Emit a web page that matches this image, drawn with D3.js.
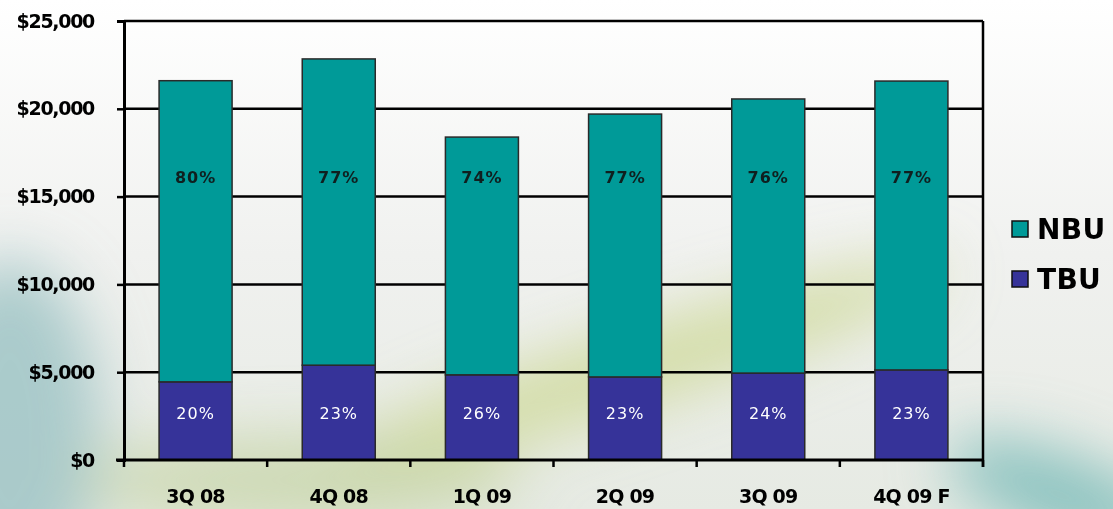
<!DOCTYPE html>
<html>
<head>
<meta charset="utf-8">
<script src="https://cdn.jsdelivr.net/npm/d3@7"></script>
<style>
    html, body { margin: 0; padding: 0; background: #f2f3f1; }
    svg { display: block; }
</style>
</head>
<body>
<svg id="chart"></svg>
<script>
// Chart data
const quarters = ['3Q 08', '4Q 08', '1Q 09', '2Q 09', '3Q 09', '4Q 09 F'];
const tbu = [4450, 5400, 4850, 4730, 4950, 5130];
const nbu = [17150, 17440, 13540, 14970, 15610, 16450];
const tbuPct = ['20%', '23%', '26%', '23%', '24%', '23%'];
const nbuPct = ['80%', '77%', '74%', '77%', '76%', '77%'];
const yTicks = [0, 5000, 10000, 15000, 20000, 25000];

const COLORS = { NBU: '#009a98', TBU: '#363399' };
const FONT = 'DejaVu Sans, Verdana, sans-serif';

const width = 1113, height = 509;
const margin = { top: 21, right: 130, bottom: 49, left: 124 };

const svg = d3.select('#chart').attr('width', width).attr('height', height);

// Background swooshes
const defs = svg.append('defs');
defs.append('filter').attr('id', 'blur').attr('x', '-50%').attr('y', '-50%')
    .attr('width', '200%').attr('height', '200%')
    .append('feGaussianBlur').attr('stdDeviation', 30);

const bgGrad = defs.append('linearGradient').attr('id', 'bg')
    .attr('x1', 0).attr('y1', 0).attr('x2', 0).attr('y2', 1);
bgGrad.append('stop').attr('offset', '0%').attr('stop-color', '#ffffff');
bgGrad.append('stop').attr('offset', '50%').attr('stop-color', '#f0f1ef');
bgGrad.append('stop').attr('offset', '100%').attr('stop-color', '#e6eae3');

svg.append('rect').attr('width', width).attr('height', height).attr('fill', 'url(#bg)');

const bg = svg.append('g').attr('filter', 'url(#blur)');
bg.append('ellipse').attr('cx', 10).attr('cy', 430).attr('rx', 90).attr('ry', 170)
    .attr('fill', '#9fc4c6').attr('opacity', 0.85);
bg.append('ellipse').attr('cx', 630).attr('cy', 370).attr('rx', 330).attr('ry', 38)
    .attr('fill', '#cfd99a').attr('opacity', 0.85)
    .attr('transform', 'rotate(-18 630 370)');
bg.append('ellipse').attr('cx', 300).attr('cy', 480).attr('rx', 220).attr('ry', 45)
    .attr('fill', '#c6d4a6').attr('opacity', 0.75);
bg.append('ellipse').attr('cx', 1060).attr('cy', 495).attr('rx', 120).attr('ry', 40)
    .attr('fill', '#79bbb8').attr('opacity', 0.85)
    .attr('transform', 'rotate(20 1060 495)');

const x = d3.scaleBand()
    .domain(quarters)
    .range([margin.left, width - margin.right])
    .paddingInner(0.49)
    .paddingOuter(0.245);

const y = d3.scaleLinear()
    .domain([0, 25000])
    .range([height - margin.bottom, margin.top]);

// Gridlines
svg.append('g').selectAll('line')
    .data(yTicks.slice(1))
    .join('line')
    .attr('x1', margin.left).attr('x2', width - margin.right)
    .attr('y1', d => y(d)).attr('y2', d => y(d))
    .attr('stroke', '#000').attr('stroke-width', 2.5);

// Stacked bars
const rows = quarters.map((q, i) => ({ q, tbu: tbu[i], nbu: nbu[i] }));
const stack = d3.stack().keys(['tbu', 'nbu'])(rows);
const keyColor = { tbu: COLORS.TBU, nbu: COLORS.NBU };

svg.append('g').selectAll('g')
    .data(stack)
    .join('g')
    .attr('fill', d => keyColor[d.key])
    .selectAll('rect')
    .data(d => d)
    .join('rect')
    .attr('x', d => x(d.data.q))
    .attr('width', x.bandwidth())
    .attr('y', d => y(d[1]))
    .attr('height', d => y(d[0]) - y(d[1]))
    .attr('stroke', '#2a2a2a')
    .attr('stroke-width', 1.5);

// Percent labels
svg.append('g').selectAll('text')
    .data(quarters)
    .join('text')
    .attr('x', d => x(d) + x.bandwidth() / 2)
    .attr('y', y(16050))
    .attr('text-anchor', 'middle')
    .attr('dominant-baseline', 'middle')
    .attr('font-family', FONT)
    .attr('font-weight', 'bold')
    .attr('font-size', 16)
    .attr('letter-spacing', 1)
    .attr('fill', '#0f1f1f')
    .text((d, i) => nbuPct[i]);

svg.append('g').selectAll('text')
    .data(quarters)
    .join('text')
    .attr('x', d => x(d) + x.bandwidth() / 2)
    .attr('y', y(2600))
    .attr('text-anchor', 'middle')
    .attr('dominant-baseline', 'middle')
    .attr('font-family', FONT)
    .attr('font-size', 16)
    .attr('letter-spacing', 1)
    .attr('fill', '#ffffff')
    .text((d, i) => tbuPct[i]);

// Y axis
const yAxis = svg.append('g')
    .attr('transform', `translate(${margin.left},0)`)
    .call(d3.axisLeft(y).tickValues(yTicks).tickSize(7).tickPadding(23)
        .tickFormat(d => '$' + d3.format(',')(d)));
yAxis.select('.domain').attr('stroke', '#000').attr('stroke-width', 3);
yAxis.selectAll('.tick line').attr('stroke', '#000').attr('stroke-width', 2.5);
yAxis.selectAll('.tick text')
    .attr('font-family', FONT)
    .attr('font-weight', 'bold')
    .attr('font-size', 19)
    .attr('letter-spacing', -1.3)
    .attr('fill', '#000');

// X axis
const bottom = height - margin.bottom;
const xg = svg.append('g');
xg.append('line')
    .attr('x1', margin.left - 8).attr('x2', width - margin.right)
    .attr('y1', bottom).attr('y2', bottom)
    .attr('stroke', '#000').attr('stroke-width', 3);
const step = x.step();
xg.selectAll('line.tick')
    .data(d3.range(quarters.length + 1))
    .join('line')
    .attr('class', 'tick')
    .attr('x1', i => margin.left + i * step).attr('x2', i => margin.left + i * step)
    .attr('y1', bottom).attr('y2', bottom + 7)
    .attr('stroke', '#000').attr('stroke-width', 2.5);
// right border of plot
xg.append('line')
    .attr('x1', width - margin.right).attr('x2', width - margin.right)
    .attr('y1', margin.top).attr('y2', bottom + 7)
    .attr('stroke', '#000').attr('stroke-width', 2.5);
xg.selectAll('text')
    .data(quarters)
    .join('text')
    .attr('x', d => x(d) + x.bandwidth() / 2)
    .attr('y', bottom + 43)
    .attr('text-anchor', 'middle')
    .attr('font-family', FONT)
    .attr('font-weight', 'bold')
    .attr('font-size', 19)
    .attr('letter-spacing', -0.8)
    .attr('fill', '#000')
    .text(d => d);

// Legend
const legendItems = ['NBU', 'TBU'];
const legend = svg.append('g').attr('transform', 'translate(1012,221)');
const li = legend.selectAll('g')
    .data(legendItems)
    .join('g')
    .attr('transform', (d, i) => `translate(0,${i * 50})`);
li.append('rect')
    .attr('width', 16).attr('height', 16)
    .attr('fill', d => COLORS[d])
    .attr('stroke', '#111').attr('stroke-width', 1.5);
li.append('text')
    .attr('x', 25).attr('y', 18)
    .attr('font-family', FONT)
    .attr('font-weight', 'bold')
    .attr('font-size', 28)
    .attr('letter-spacing', 0.3)
    .attr('fill', '#000')
    .text(d => d);
</script>
</body>
</html>
